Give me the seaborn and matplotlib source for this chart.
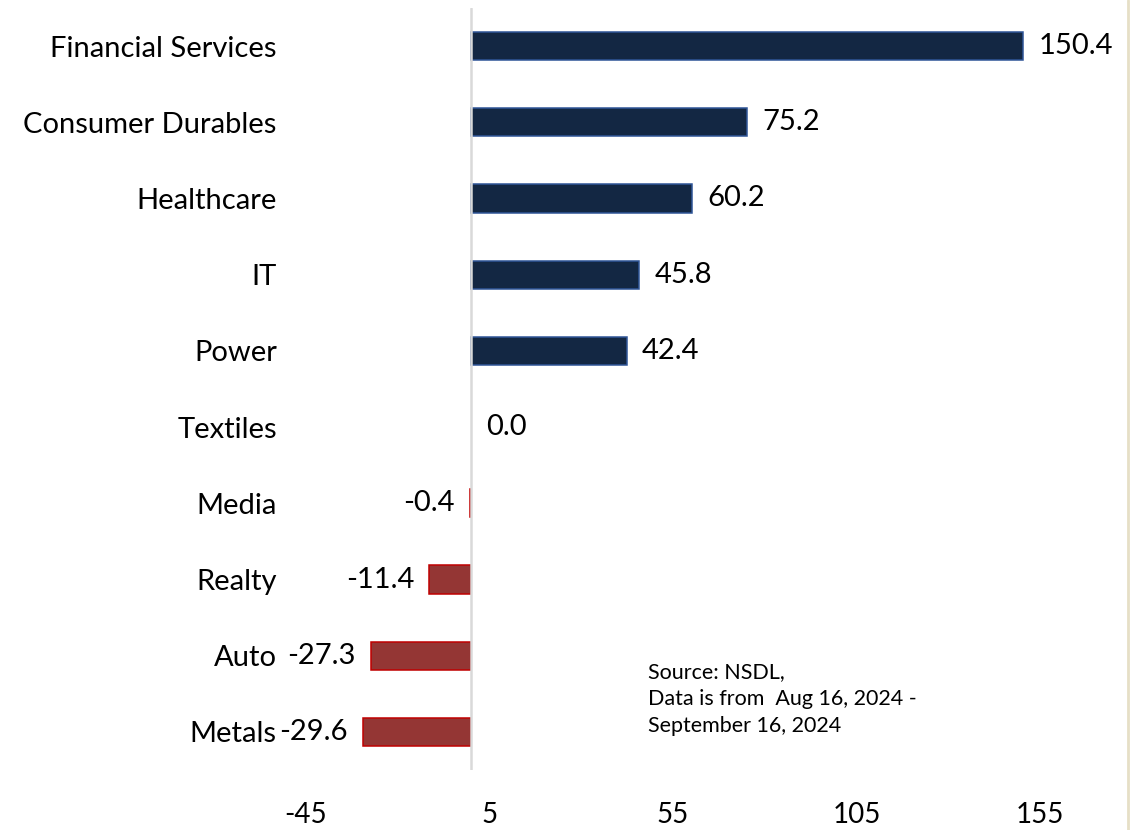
import matplotlib
matplotlib.use("Agg")
import matplotlib.pyplot as plt
from matplotlib.lines import Line2D
import seaborn as sns
import pandas as pd

# Net flows by sector
sectors = ["Financial Services", "Consumer Durables", "Healthcare", "IT", "Power",
           "Textiles", "Media", "Realty", "Auto", "Metals"]
flows = [150.4, 75.2, 60.2, 45.8, 42.4, 0.0, -0.4, -11.4, -27.3, -29.6]
x_ticks = [-45, 5, 55, 105, 155]
source_note = "Source: NSDL,\nData is from  Aug 16, 2024 -\nSeptember 16, 2024"

POS_FILL, POS_EDGE = "#132743", "#2F5597"
NEG_FILL, NEG_EDGE = "#943634", "#C00000"

sns.set_theme(style="white")
plt.rcParams["font.family"] = ["Lato", "DejaVu Sans"]

df = pd.DataFrame({"sector": sectors, "flow": flows})
fills = [POS_FILL if v >= 0 else NEG_FILL for v in flows]
edges = [POS_EDGE if v >= 0 else NEG_EDGE for v in flows]

fig = plt.figure(figsize=(11.4, 8.3), dpi=100)
ax = fig.add_axes([306 / 1140, 1 - 770 / 830, (1040 - 306) / 1140, (770 - 8) / 830])

sns.barplot(data=df, x="flow", y="sector", hue="sector", palette=fills,
            saturation=1, legend=False, orient="h", width=0.37, ax=ax, zorder=3)

for patch, ec, v in zip(ax.patches, edges, flows):
    patch.set_edgecolor(ec)
    patch.set_linewidth(1.1 if v != 0 else 0)

ax.set_xlim(-45, 155)
ax.set_ylim(len(sectors) - 0.5, -0.5)
ax.set_xticks(x_ticks)
ax.set_xticklabels([str(t) for t in x_ticks])
ax.tick_params(axis="x", length=0, pad=23, labelsize=20, labelcolor="black")
ax.tick_params(axis="y", length=0, pad=21, labelsize=21, labelcolor="black")
ax.set_xlabel("")
ax.set_ylabel("")
for s in ax.spines.values():
    s.set_visible(False)

ax.axvline(0, color="#D9D9D9", lw=1.8, zorder=4)

for cont in ax.containers:
    ax.bar_label(cont, fmt="%.1f", padding=11, fontsize=21, color="black")

fig.text(648 / 1140, 1 - 662 / 830, source_note, ha="left", va="top",
         fontsize=15.5, color="black", linespacing=1.45)

fig.add_artist(Line2D([1128 / 1140, 1128 / 1140], [0, 1], color="#E6DFC6",
                      lw=2, transform=fig.transFigure))

fig.savefig("out.png", dpi=100)
